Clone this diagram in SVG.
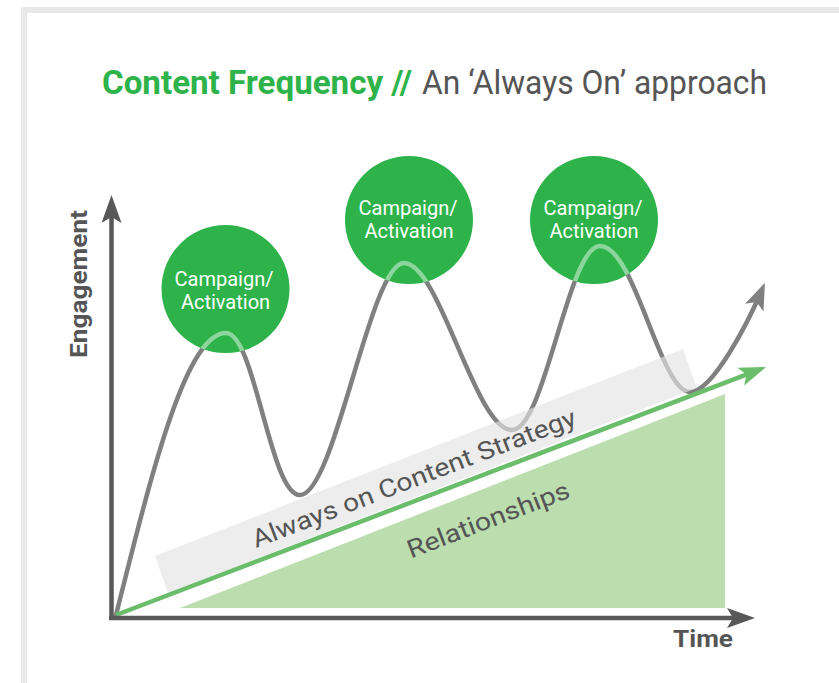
<svg xmlns="http://www.w3.org/2000/svg" width="839" height="683" viewBox="0 0 839 683">
<style>
  .axis{stroke:#585858;stroke-width:4.5;fill:none}
  .curve{stroke:#808080;stroke-width:4.5;fill:none;stroke-linecap:round}
  .hl{stroke:#ffffff;stroke-opacity:0.45;stroke-width:4.5;fill:none}
  .bubble{fill:#2eb34b}
  .btxt{font-family:Roboto,"Liberation Sans",sans-serif;font-size:20px;fill:#ffffff;text-anchor:middle}
  .lbl{font-family:Roboto,"Liberation Sans",sans-serif;font-size:25px;fill:#555555}
  .axl{font-family:Roboto,"Liberation Sans",sans-serif;font-size:24px;font-weight:bold;fill:#555555}
</style>
<defs>
  <marker id="mAxis" markerUnits="userSpaceOnUse" viewBox="-20 -12 32 24" markerWidth="32" markerHeight="24" refX="0" refY="0" orient="auto">
    <path d="M10,0 L-18,-10 L-12,0 L-18,10 Z" fill="#585858"/>
  </marker>
  <marker id="mCurve" markerUnits="userSpaceOnUse" viewBox="-20 -12 32 24" markerWidth="32" markerHeight="24" refX="0" refY="0" orient="auto">
    <path d="M10,0 L-17,-10 L-11,0 L-17,10 Z" fill="#808080"/>
  </marker>
  <marker id="mGreen" markerUnits="userSpaceOnUse" viewBox="-20 -12 32 24" markerWidth="32" markerHeight="24" refX="0" refY="0" orient="auto">
    <path d="M10,0 L-17,-9.5 L-11,0 L-17,9.5 Z" fill="#6abd6a"/>
  </marker>
  <clipPath id="cBubbles">
    <circle cx="225.5" cy="289" r="64"/>
    <circle cx="409" cy="220" r="64"/>
    <circle cx="594" cy="220" r="64"/>
  </clipPath>
  <path id="curvePath" d="M116,615 C150,480 185,333 226,333 C255,333 270,495 300,495 C335,495 370,263 404,263 C440,263 475,430 512,430 C545,430 568,246 600,246 C635,246 660,392 690,392 C713,392 749,320 761,292"/>
</defs>

<!-- frame -->
<rect x="24" y="10" width="900" height="900" fill="#ffffff" stroke="#e8e8e8" stroke-width="6"/>

<!-- title -->
<g id="title">
  <text x="102" y="94" font-family="Roboto,'Liberation Sans',sans-serif" font-size="33" font-weight="bold" fill="#2eb34b" textLength="310" lengthAdjust="spacingAndGlyphs">Content Frequency //</text>
  <text x="422" y="94" font-family="Roboto,'Liberation Sans',sans-serif" font-size="33" fill="#555555" textLength="345" lengthAdjust="spacingAndGlyphs">An ‘Always On’ approach</text>
</g>

<!-- relationships area -->
<g id="relationships">
  <polygon points="180,608 725,394 725,608" fill="#bcdeaf"/>
</g>

<g id="connectors">
  <use href="#curvePath" class="curve" marker-end="url(#mCurve)"/>
</g>

<!-- always-on band -->
<g id="always-on">
  <polygon points="155,556 683,349 697,388 168,593" fill="#e4e4e4" fill-opacity="0.65"/>
</g>

<g id="growth-line">
  <line x1="116" y1="615" x2="756.7" y2="370.6" stroke="#6abd6a" stroke-width="4.5" marker-end="url(#mGreen)"/>
</g>

<g id="axes">
  <path class="axis" d="M111.5,620 L111.5,205" marker-end="url(#mAxis)"/>
  <path class="axis" d="M109,618 L745,618" marker-end="url(#mAxis)"/>
  <text class="axl" transform="translate(86.5,358) rotate(-90)" textLength="148" lengthAdjust="spacingAndGlyphs">Engagement</text>
  <text class="axl" x="673" y="647" textLength="60" lengthAdjust="spacingAndGlyphs">Time</text>
</g>

<g id="campaign1">
  <circle class="bubble" cx="225.5" cy="289" r="64"/>
</g>
<g id="campaign2">
  <circle class="bubble" cx="409" cy="220" r="64"/>
</g>
<g id="campaign3">
  <circle class="bubble" cx="594" cy="220" r="64"/>
</g>

<g id="curve-highlight" clip-path="url(#cBubbles)">
  <use href="#curvePath" class="hl"/>
</g>

<g id="bubble-labels">
  <text class="btxt" x="224" y="286">Campaign/</text>
  <text class="btxt" x="225.5" y="309">Activation</text>
  <text class="btxt" x="408" y="215">Campaign/</text>
  <text class="btxt" x="409" y="238">Activation</text>
  <text class="btxt" x="593" y="215">Campaign/</text>
  <text class="btxt" x="594" y="238">Activation</text>
</g>

<g id="band-labels">
  <text class="lbl" transform="translate(256,548) rotate(-21)" textLength="345" lengthAdjust="spacingAndGlyphs">Always on Content Strategy</text>
  <text class="lbl" transform="translate(411,558.5) rotate(-21)" textLength="172" lengthAdjust="spacingAndGlyphs">Relationships</text>
</g>
</svg>
